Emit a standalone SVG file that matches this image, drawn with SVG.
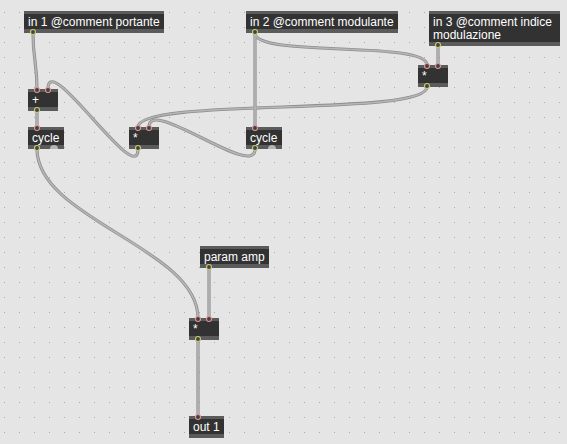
<svg xmlns="http://www.w3.org/2000/svg" xmlns:xlink="http://www.w3.org/1999/xlink" width="567" height="444" viewBox="0 0 567 444">
<style>
.bg{fill:#e5e5e5}
.stripe{fill:#5b5b5b}
.body{fill:#323232}
.lbl{font-family:"Liberation Sans",Arial,sans-serif;font-size:12px;fill:#ffffff}
.in{fill:#4d3c3c;stroke:#d99a9a;stroke-width:1.1}
.out{fill:#45453a;stroke:#c9c97c;stroke-width:1.1}
.out2{fill:#b4b4b4}
.cord-outer{fill:none;stroke:#8e8e8e;stroke-width:3.2;stroke-linecap:round}
.cord-inner{fill:none;stroke:#b6b6b6;stroke-width:1.6;stroke-linecap:round}
</style>
<defs>
<pattern id="grid" x="4" y="12" width="15" height="15" patternUnits="userSpaceOnUse">
<rect x="0" y="0" width="1" height="1" fill="#ababab"/>
</pattern>
<path id="p1" d="M33,33 C33,60 37,62 37,89"/>
<path id="p2" d="M37,111 L37,127"/>
<path id="p3" d="M37,149 C37,219 198,248 198,318"/>
<path id="p4" d="M255,33 L255,127"/>
<path id="p5" d="M255,33 C255,58 427,40 427,65"/>
<path id="p6" d="M438,46 L438,65"/>
<path id="p7" d="M427,87 C427,117 138,97 138,127"/>
<path id="p8" d="M255,149 C255,180 149,96 149,127"/>
<path id="p9" d="M138,149 C138,189 48,49 48,89"/>
<path id="p10" d="M209,268 L209,318"/>
<path id="p11" d="M198,340 L198,416"/>
</defs>
<rect class="bg" x="0" y="0" width="567" height="444"/>
<rect x="0" y="0" width="567" height="444" fill="url(#grid)"/>

<g id="connectors">
<g class="cord-outer">
<use xlink:href="#p1"/><use xlink:href="#p2"/><use xlink:href="#p3"/><use xlink:href="#p4"/><use xlink:href="#p5"/><use xlink:href="#p6"/><use xlink:href="#p7"/><use xlink:href="#p8"/><use xlink:href="#p9"/><use xlink:href="#p10"/><use xlink:href="#p11"/>
</g>
<g class="cord-inner">
<use xlink:href="#p1"/><use xlink:href="#p2"/><use xlink:href="#p3"/><use xlink:href="#p4"/><use xlink:href="#p5"/><use xlink:href="#p6"/><use xlink:href="#p7"/><use xlink:href="#p8"/><use xlink:href="#p9"/><use xlink:href="#p10"/><use xlink:href="#p11"/>
</g>
</g>

<g id="in1">
<rect class="stripe" x="24" y="11" width="140" height="22"/>
<rect class="body" x="24" y="14" width="140" height="15"/>
<text class="lbl" x="28" y="26">in 1 @comment portante</text>
<circle class="out" cx="33" cy="32" r="2.5"/>
</g>

<g id="in2">
<rect class="stripe" x="246" y="11" width="152" height="22"/>
<rect class="body" x="246" y="14" width="152" height="15"/>
<text class="lbl" x="250" y="26">in 2 @comment modulante</text>
<circle class="out" cx="255" cy="32" r="2.5"/>
</g>

<g id="in3">
<rect class="stripe" x="429" y="11" width="131" height="35"/>
<rect class="body" x="429" y="14" width="131" height="28"/>
<text class="lbl" x="433" y="26">in 3 @comment indice</text>
<text class="lbl" x="433" y="39">modulazione</text>
<circle class="out" cx="438" cy="45" r="2.5"/>
</g>

<g id="mulIndex">
<rect class="stripe" x="418" y="65" width="30" height="22"/>
<rect class="body" x="418" y="68" width="30" height="15"/>
<text class="lbl" x="422" y="80">*</text>
<circle class="in" cx="427" cy="66" r="2.5"/>
<circle class="in" cx="438" cy="66" r="2.5"/>
<circle class="out" cx="427" cy="86" r="2.5"/>
</g>

<g id="plus">
<rect class="stripe" x="28" y="89" width="30" height="22"/>
<rect class="body" x="28" y="92" width="30" height="15"/>
<text class="lbl" x="32" y="104">+</text>
<circle class="in" cx="37" cy="90" r="2.5"/>
<circle class="in" cx="48" cy="90" r="2.5"/>
<circle class="out" cx="37" cy="110" r="2.5"/>
</g>

<g id="cycleCarrier">
<rect class="stripe" x="28" y="127" width="36" height="22"/>
<rect class="body" x="28" y="130" width="36" height="15"/>
<text class="lbl" x="32" y="142">cycle</text>
<circle class="in" cx="37" cy="128" r="2.5"/>
<circle class="out" cx="37" cy="148" r="2.5"/>
<path class="out2" d="M50,149 A4,4 0 0 1 58,149 Z"/>
</g>

<g id="mulMod">
<rect class="stripe" x="129" y="127" width="30" height="22"/>
<rect class="body" x="129" y="130" width="30" height="15"/>
<text class="lbl" x="133" y="142">*</text>
<circle class="in" cx="138" cy="128" r="2.5"/>
<circle class="in" cx="149" cy="128" r="2.5"/>
<circle class="out" cx="138" cy="148" r="2.5"/>
</g>

<g id="cycleMod">
<rect class="stripe" x="246" y="127" width="36" height="22"/>
<rect class="body" x="246" y="130" width="36" height="15"/>
<text class="lbl" x="250" y="142">cycle</text>
<circle class="in" cx="255" cy="128" r="2.5"/>
<circle class="out" cx="255" cy="148" r="2.5"/>
<path class="out2" d="M268,149 A4,4 0 0 1 276,149 Z"/>
</g>

<g id="paramAmp">
<rect class="stripe" x="200" y="246" width="69" height="22"/>
<rect class="body" x="200" y="249" width="69" height="15"/>
<text class="lbl" x="204" y="261">param amp</text>
<circle class="out" cx="209" cy="267" r="2.5"/>
</g>

<g id="mulAmp">
<rect class="stripe" x="189" y="318" width="30" height="22"/>
<rect class="body" x="189" y="321" width="30" height="15"/>
<text class="lbl" x="193" y="333">*</text>
<circle class="in" cx="198" cy="319" r="2.5"/>
<circle class="in" cx="209" cy="319" r="2.5"/>
<circle class="out" cx="198" cy="339" r="2.5"/>
</g>

<g id="out1">
<rect class="stripe" x="189" y="416" width="35" height="22"/>
<rect class="body" x="189" y="419" width="35" height="15"/>
<text class="lbl" x="193" y="431">out 1</text>
<circle class="in" cx="198" cy="417" r="2.5"/>
</g>
</svg>
